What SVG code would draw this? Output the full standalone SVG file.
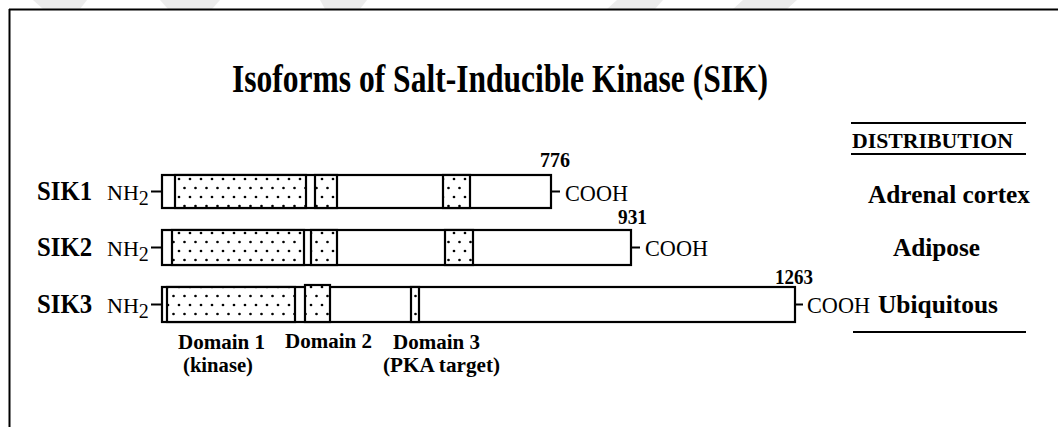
<svg xmlns="http://www.w3.org/2000/svg" width="1058" height="427" viewBox="0 0 1058 427">
<defs>
<style>
.t{font-family:"Liberation Serif","Times New Roman",serif;fill:#000}
.b{font-weight:bold}
.box{fill:#fff;stroke:#000;stroke-width:2.2}
.dom{fill:url(#dots);stroke:#000;stroke-width:2.2}
.ln{stroke:#000;stroke-width:2;fill:none}
.wm{fill:#ececec}
</style>
<pattern id="dots" patternUnits="userSpaceOnUse" x="0" y="174" width="11" height="18">
<rect width="11" height="18" fill="#fff"/>
<circle cx="3" cy="5" r="1.35" fill="#000"/>
<circle cx="8.5" cy="14" r="1.35" fill="#000"/>
</pattern>
</defs>
<rect width="1058" height="427" fill="#fff"/>
<g id="watermark">
<polygon class="wm" points="33,0 87,0 80,9 43,9"/>
<polygon class="wm" points="160,0 220,0 212,9 168,9"/>
<polygon class="wm" points="320,0 367,0 360,9 325,9"/>
<polygon class="wm" points="617,0 663,0 655,9 607,9"/>
<polygon class="wm" points="743,0 797,0 787,9 733,9"/>
</g>
<g id="frame">
<line class="ln" x1="9" y1="9.5" x2="1058" y2="9.5" stroke-width="2.5"/>
<line class="ln" x1="9.5" y1="9" x2="9.5" y2="427" stroke-width="2.5"/>
</g>
<text id="title" class="t b" x="232" y="92" font-size="39" textLength="536" lengthAdjust="spacingAndGlyphs">Isoforms of Salt-Inducible Kinase (SIK)</text>
<g id="distribution-header">
<line class="ln" x1="851" y1="123" x2="1026" y2="123" stroke-width="2.5"/>
<text class="t b" x="852" y="148" font-size="21" textLength="161" lengthAdjust="spacingAndGlyphs">DISTRIBUTION</text>
<line class="ln" x1="851" y1="154" x2="1026" y2="154" stroke-width="2.5"/>
<line class="ln" x1="853" y1="332" x2="1026" y2="332" stroke-width="2.5"/>
</g>
<g id="connectors">
<line class="ln" x1="151" y1="191.5" x2="162" y2="191.5"/>
<line class="ln" x1="551" y1="191.5" x2="560" y2="191.5"/>
<line class="ln" x1="151" y1="247.5" x2="162" y2="247.5"/>
<line class="ln" x1="631" y1="247.5" x2="640" y2="247.5"/>
<line class="ln" x1="151" y1="304.5" x2="162" y2="304.5"/>
<line class="ln" x1="795" y1="304.5" x2="803" y2="304.5"/>
</g>
<g id="sik1">
<text class="t b" x="37" y="200" font-size="27" textLength="55" lengthAdjust="spacingAndGlyphs">SIK1</text>
<text class="t" x="107" y="200" font-size="22">NH<tspan dy="5" font-size="20">2</tspan></text>
<rect class="box" x="162" y="175" width="389" height="33"/>
<line class="ln" x1="162" y1="208" x2="551" y2="208" stroke-width="3.5"/>
<rect class="dom" x="175" y="175" width="131" height="33"/>
<rect class="dom" x="315" y="175" width="22" height="33"/>
<rect class="dom" x="443" y="175" width="27" height="33"/>
<text class="t b" x="540" y="167" font-size="22" textLength="30" lengthAdjust="spacingAndGlyphs">776</text>
<text class="t" x="565" y="201" font-size="24" textLength="63" lengthAdjust="spacingAndGlyphs">COOH</text>
<text class="t b" x="868" y="203" font-size="26" textLength="162" lengthAdjust="spacingAndGlyphs">Adrenal cortex</text>
</g>
<g id="sik2">
<text class="t b" x="37" y="256" font-size="27" textLength="55" lengthAdjust="spacingAndGlyphs">SIK2</text>
<text class="t" x="107" y="256" font-size="22">NH<tspan dy="5" font-size="20">2</tspan></text>
<rect class="box" x="162" y="230" width="469" height="35"/>
<line class="ln" x1="162" y1="265" x2="631" y2="265" stroke-width="3"/>
<rect class="dom" x="172" y="230" width="132" height="35"/>
<rect class="dom" x="311" y="230" width="26" height="35"/>
<rect class="dom" x="445" y="230" width="28" height="35"/>
<text class="t b" x="618" y="224" font-size="22" textLength="29" lengthAdjust="spacingAndGlyphs">931</text>
<text class="t" x="645" y="256" font-size="24" textLength="63" lengthAdjust="spacingAndGlyphs">COOH</text>
<text class="t b" x="893" y="256" font-size="26" textLength="87" lengthAdjust="spacingAndGlyphs">Adipose</text>
</g>
<g id="sik3">
<text class="t b" x="37" y="313" font-size="27" textLength="55" lengthAdjust="spacingAndGlyphs">SIK3</text>
<text class="t" x="107" y="313" font-size="22">NH<tspan dy="5" font-size="20">2</tspan></text>
<rect class="box" x="162" y="287" width="633" height="35"/>
<line class="ln" x1="162" y1="322" x2="795" y2="322" stroke-width="3"/>
<rect class="dom" x="167" y="287" width="128" height="35"/>
<line class="ln" x1="295" y1="287" x2="295" y2="322" stroke-width="3.5"/>
<rect class="dom" x="305" y="285" width="25" height="37"/>
<rect class="dom" x="411" y="287" width="8" height="35"/>
<line class="ln" x1="419" y1="287" x2="419" y2="322" stroke-width="3"/>
<text class="t b" x="775" y="284" font-size="22" textLength="38" lengthAdjust="spacingAndGlyphs">1263</text>
<text class="t" x="807" y="313" font-size="24" textLength="63" lengthAdjust="spacingAndGlyphs">COOH</text>
<text class="t b" x="878" y="313" font-size="26" textLength="120" lengthAdjust="spacingAndGlyphs">Ubiquitous</text>
</g>
<g id="domain-labels">
<text class="t b" x="178" y="349" font-size="20" textLength="87" lengthAdjust="spacingAndGlyphs">Domain 1</text>
<text class="t b" x="183" y="372" font-size="20" textLength="70" lengthAdjust="spacingAndGlyphs">(kinase)</text>
<text class="t b" x="285" y="348" font-size="20" textLength="87" lengthAdjust="spacingAndGlyphs">Domain 2</text>
<text class="t b" x="393" y="349" font-size="20" textLength="87" lengthAdjust="spacingAndGlyphs">Domain 3</text>
<text class="t b" x="383" y="372" font-size="20" textLength="117" lengthAdjust="spacingAndGlyphs">(PKA target)</text>
</g>
</svg>
